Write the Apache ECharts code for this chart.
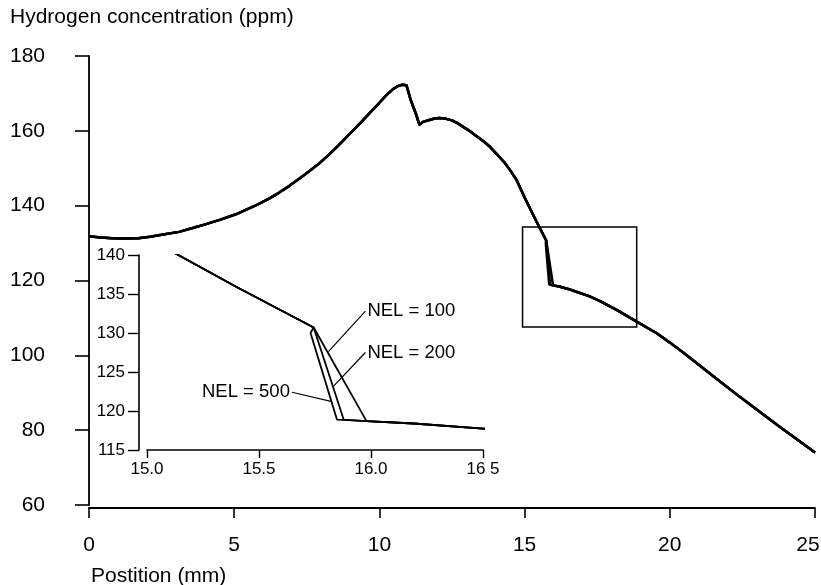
<!DOCTYPE html>
<html lang="en">
<head>
    <meta charset="UTF-8">
    <title>Hydrogen concentration</title>
    <script src="https://cdn.jsdelivr.net/npm/echarts@6/dist/echarts.min.js"></script>
    <style>
        html, body { margin: 0; padding: 0; background: #fff; }
        #chart { width: 821px; height: 585px; }
    </style>
</head>
<body>
<div id="chart"></div>
<script>
    // profile before the step (mm, ppm)
    const curveBefore = [
        [0, 131.8], [0.4, 131.5], [0.8, 131.3], [1.2, 131.2], [1.7, 131.3], [2.1, 131.7],
        [2.5, 132.2], [3.1, 133.0], [3.6, 134.1], [4.0, 135.0], [4.5, 136.2], [5.06, 137.7],
        [5.4, 138.9], [5.8, 140.3], [6.2, 141.9], [6.55, 143.5], [6.9, 145.3], [7.2, 147.0],
        [7.55, 149.0], [7.93, 151.3], [8.3, 153.9], [8.6, 156.2], [8.9, 158.6], [9.2, 160.9],
        [9.6, 164.2], [9.8, 165.9], [10.0, 167.5], [10.25, 169.6], [10.46, 171.1], [10.6, 171.8],
        [10.69, 172.1], [10.8, 172.3], [10.93, 172.2], [11.08, 168.2], [11.25, 164.7],
        [11.38, 161.6], [11.5, 162.4], [11.72, 162.9], [11.9, 163.3], [12.07, 163.4],
        [12.3, 163.2], [12.5, 162.8], [12.7, 162.0], [12.86, 161.2], [13.1, 160.0],
        [13.3, 158.8], [13.55, 157.4], [13.8, 155.8], [14.05, 153.7], [14.3, 151.6],
        [14.5, 149.5], [14.72, 146.9], [15.0, 142.2], [15.4, 135.9], [15.744, 130.7]
    ];
    // the step, one per mesh size
    const dropNel100 = [[15.98, 118.7]];
    const dropNel200 = [[15.878, 118.9], [15.98, 118.7]];
    const dropNel500 = [[15.73, 130.0], [15.848, 118.9], [15.98, 118.7]];
    // profile after the step
    const curveAfter = [
        [16.19, 118.4], [16.5, 117.75], [16.78, 117.0], [17.2, 115.9], [17.6, 114.5],
        [18.2, 112.0], [18.86, 109.0], [19.55, 105.9], [20.0, 103.4], [20.45, 100.8],
        [21.4, 95.0], [22.41, 88.9], [23.7, 81.4], [25, 74.0]
    ];
    const nelLabels = ['NEL = 100', 'NEL = 200', 'NEL = 500'];
    // leader lines: [label end, point on curve]
    const leaders = [
        [[15.975, 132.8], [15.81, 127.6]],
        [[15.975, 127.5], [15.833, 123.2]],
        [[15.647, 122.4], [15.826, 121.2]]
    ];
    const zoomBox = [[14.93, 134.3], [18.86, 107.6]];
    const insetXLabels = ['15.0', '15.5', '16.0', '16 5'];

    const font = 'Liberation Sans, Arial, sans-serif';
    const curves = [dropNel100, dropNel200, dropNel500].map(d => curveBefore.concat(d, curveAfter));

    let chart = echarts.init(document.getElementById('chart'));

    function curveSeries(data, grid, width, withBox) {
        let s = {
            type: 'line',
            xAxisIndex: grid,
            yAxisIndex: grid,
            data: data,
            symbol: 'none',
            silent: true,
            clip: true,
            lineStyle: { color: '#000', width: width }
        };
        if (withBox) {
            s.markArea = {
                silent: true,
                label: { show: false },
                itemStyle: { color: 'rgba(0,0,0,0)', borderColor: '#000', borderWidth: 1.5 },
                data: [[{ coord: zoomBox[0] }, { coord: zoomBox[1] }]]
            };
        }
        return s;
    }

    let series = [];
    curves.forEach((c, i) => series.push(curveSeries(c, 0, 2.5, i === 2)));
    curves.forEach(c => series.push(curveSeries(c, 1, 1.8, false)));
    leaders.forEach((l, i) => {
        series.push({
            type: 'line',
            xAxisIndex: 1,
            yAxisIndex: 1,
            symbol: 'circle',
            symbolSize: 0,
            showSymbol: true,
            silent: true,
            lineStyle: { color: '#000', width: 1.2 },
            itemStyle: { color: '#000' },
            data: [
                {
                    value: l[0],
                    label: {
                        show: true,
                        position: i === 2 ? 'left' : 'right',
                        distance: 2,
                        formatter: nelLabels[i],
                        color: '#000',
                        fontSize: 18.5,
                        fontFamily: font
                    }
                },
                { value: l[1], label: { show: false } }
            ]
        });
    });

    chart.setOption({
        animation: false,
        backgroundColor: '#fff',
        title: [
            { text: 'Hydrogen concentration (ppm)', left: 5, top: 2,
              textStyle: { fontSize: 21, fontWeight: 'normal', color: '#000', fontFamily: font } },
            { text: 'Postition (mm)', left: 86, top: 561,
              textStyle: { fontSize: 21, fontWeight: 'normal', color: '#000', fontFamily: font } }
        ],
        grid: [
            { left: 89, right: 6, top: 56, bottom: 80, outerBoundsMode: 'none', containLabel: false },
            { left: 147, right: 338, top: 255, bottom: 135, outerBoundsMode: 'none', containLabel: false }
        ],
        xAxis: [
            {
                type: 'value', gridIndex: 0, min: 0, max: 25, interval: 5, offset: 3,
                splitLine: { show: false },
                axisLine: { lineStyle: { color: '#000', width: 1.8 } },
                axisTick: { length: 10, lineStyle: { color: '#000', width: 1.6 } },
                axisLabel: {
                    margin: 27, fontSize: 21, color: '#000', fontFamily: font,
                    // last label sits a little left so it stays inside the page
                    formatter: v => v === 25 ? '{e|' + v + '}' : String(v),
                    rich: { e: { fontSize: 21, color: '#000', fontFamily: font, padding: [0, 14, 0, 0] } }
                }
            },
            {
                type: 'value', gridIndex: 1, min: 15, max: 16.5, interval: 0.5,
                splitLine: { show: false },
                axisLine: { lineStyle: { color: '#000', width: 1.6 } },
                axisTick: { length: 8, lineStyle: { color: '#000', width: 1.4 } },
                axisLabel: { margin: 11, fontSize: 17, color: '#000', fontFamily: font,
                    formatter: v => insetXLabels[Math.round((v - 15) / 0.5)] }
            }
        ],
        yAxis: [
            {
                type: 'value', gridIndex: 0, min: 60, max: 180, interval: 20, offset: 21,
                splitLine: { show: false },
                axisLine: { show: true, lineStyle: { color: '#000', width: 1.8 } },
                axisTick: { show: true, length: 14, lineStyle: { color: '#000', width: 1.6 } },
                axisLabel: { margin: 23, fontSize: 21, color: '#000', fontFamily: font }
            },
            {
                type: 'value', gridIndex: 1, min: 115, max: 140, interval: 5, offset: 8,
                splitLine: { show: false },
                axisLine: { show: true, lineStyle: { color: '#000', width: 1.6 } },
                axisTick: { show: true, length: 11, lineStyle: { color: '#000', width: 1.4 } },
                axisLabel: { margin: 14, fontSize: 17, color: '#000', fontFamily: font }
            }
        ],
        series: series
    });
</script>
</body>
</html>
